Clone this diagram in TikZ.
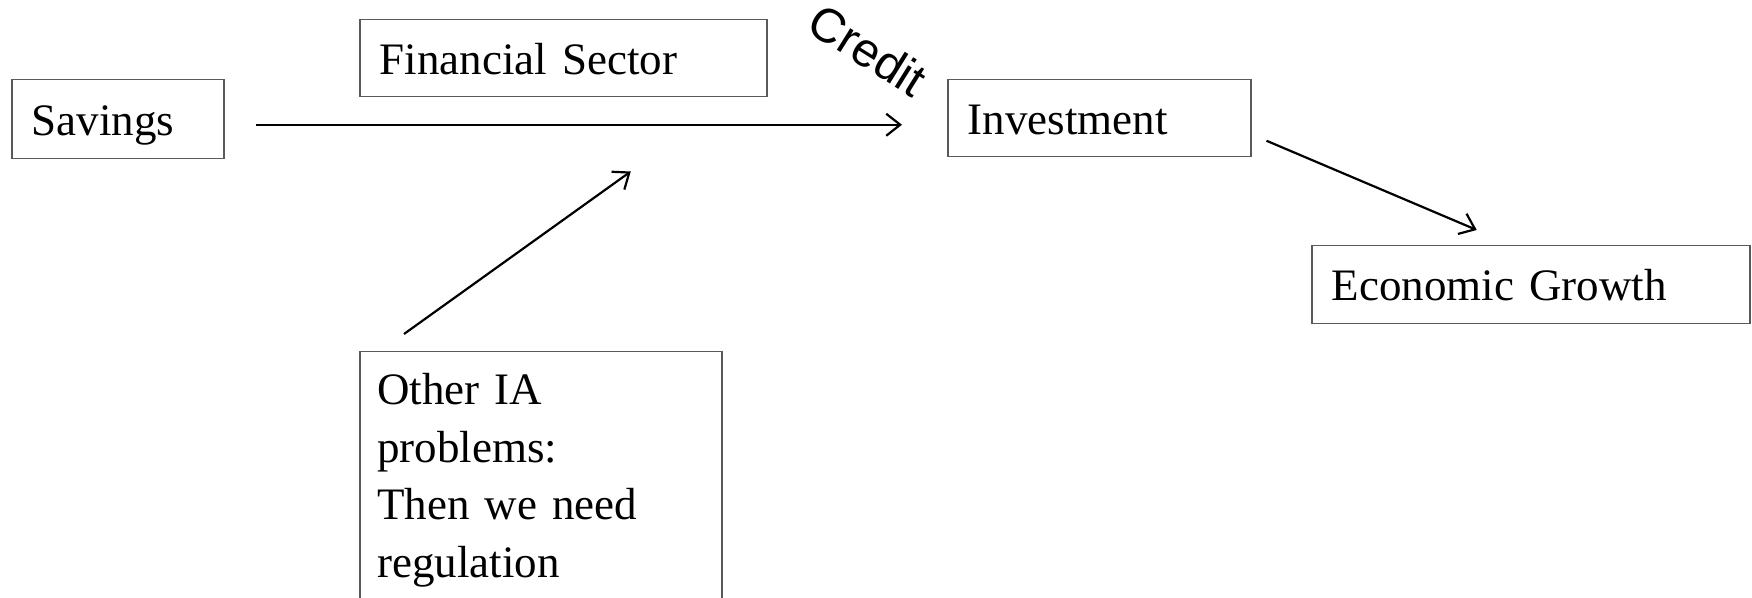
\documentclass[tikz,border=0pt]{standalone}
\usepackage{fontspec}
\setmainfont{Liberation Serif}
\newfontfamily\creditfont{Liberation Sans}
\usetikzlibrary{arrows.meta,calc}
\begin{document}
\begin{tikzpicture}[x=0.5pt,y=-0.5pt,
  box/.style={draw=black!65, line width=0.75pt, anchor=north west,
    inner xsep=10pt, inner ysep=0pt, align=left,
    font=\fontsize{22.5pt}{28.7pt}\selectfont,
    text height=16pt, text depth=0pt},
  conn/.style={line width=1.1pt, -{Straight Barb[length=7pt,width=11pt,line width=1.1pt]}}]
\useasboundingbox (0,0) rectangle (1752,598);
\node[box, minimum width=106pt, minimum height=39.5pt, text width=86pt] (sav) at (11,79) {Savings};
\node[box, minimum width=203.5pt, minimum height=38.5pt, text width=183.5pt] (fin) at (359,19) {Financial Sector};
\node[box, minimum width=151.5pt, minimum height=38.5pt, text width=131.5pt] (inv) at (947,79) {Investment};
\node[box, minimum width=219pt, minimum height=39pt, text width=199pt] (gro) at (1311,245) {Economic Growth};
\node[draw=black!65, line width=0.75pt, anchor=north west, inner sep=0pt,
  minimum width=181pt, minimum height=160pt] (other) at (359,351) {};
\node[anchor=base west, align=left, inner sep=0pt, text width=170pt,
  font=\fontsize{22.5pt}{28.7pt}\selectfont] (othertext) at (377,405)
  {Other IA\\problems:\\Then we need\\regulation};
\node[font=\creditfont\fontsize{24pt}{26pt}\selectfont, rotate=-32, inner sep=0pt] (credit) at (868,50) {Credit};
\draw[conn] ($(sav.east)+(31,5.5)$) -- ($(inv.west)+(-45,6.5)$);
\draw[conn] ($(other.north west)+(45,-17)$) -- ($(fin.south)+(67.5,74)$);
\draw[conn] ($(inv.east)+(15,22.5)$) -- ($(gro.north)+(-54,-15)$);
\end{tikzpicture}
\end{document}
